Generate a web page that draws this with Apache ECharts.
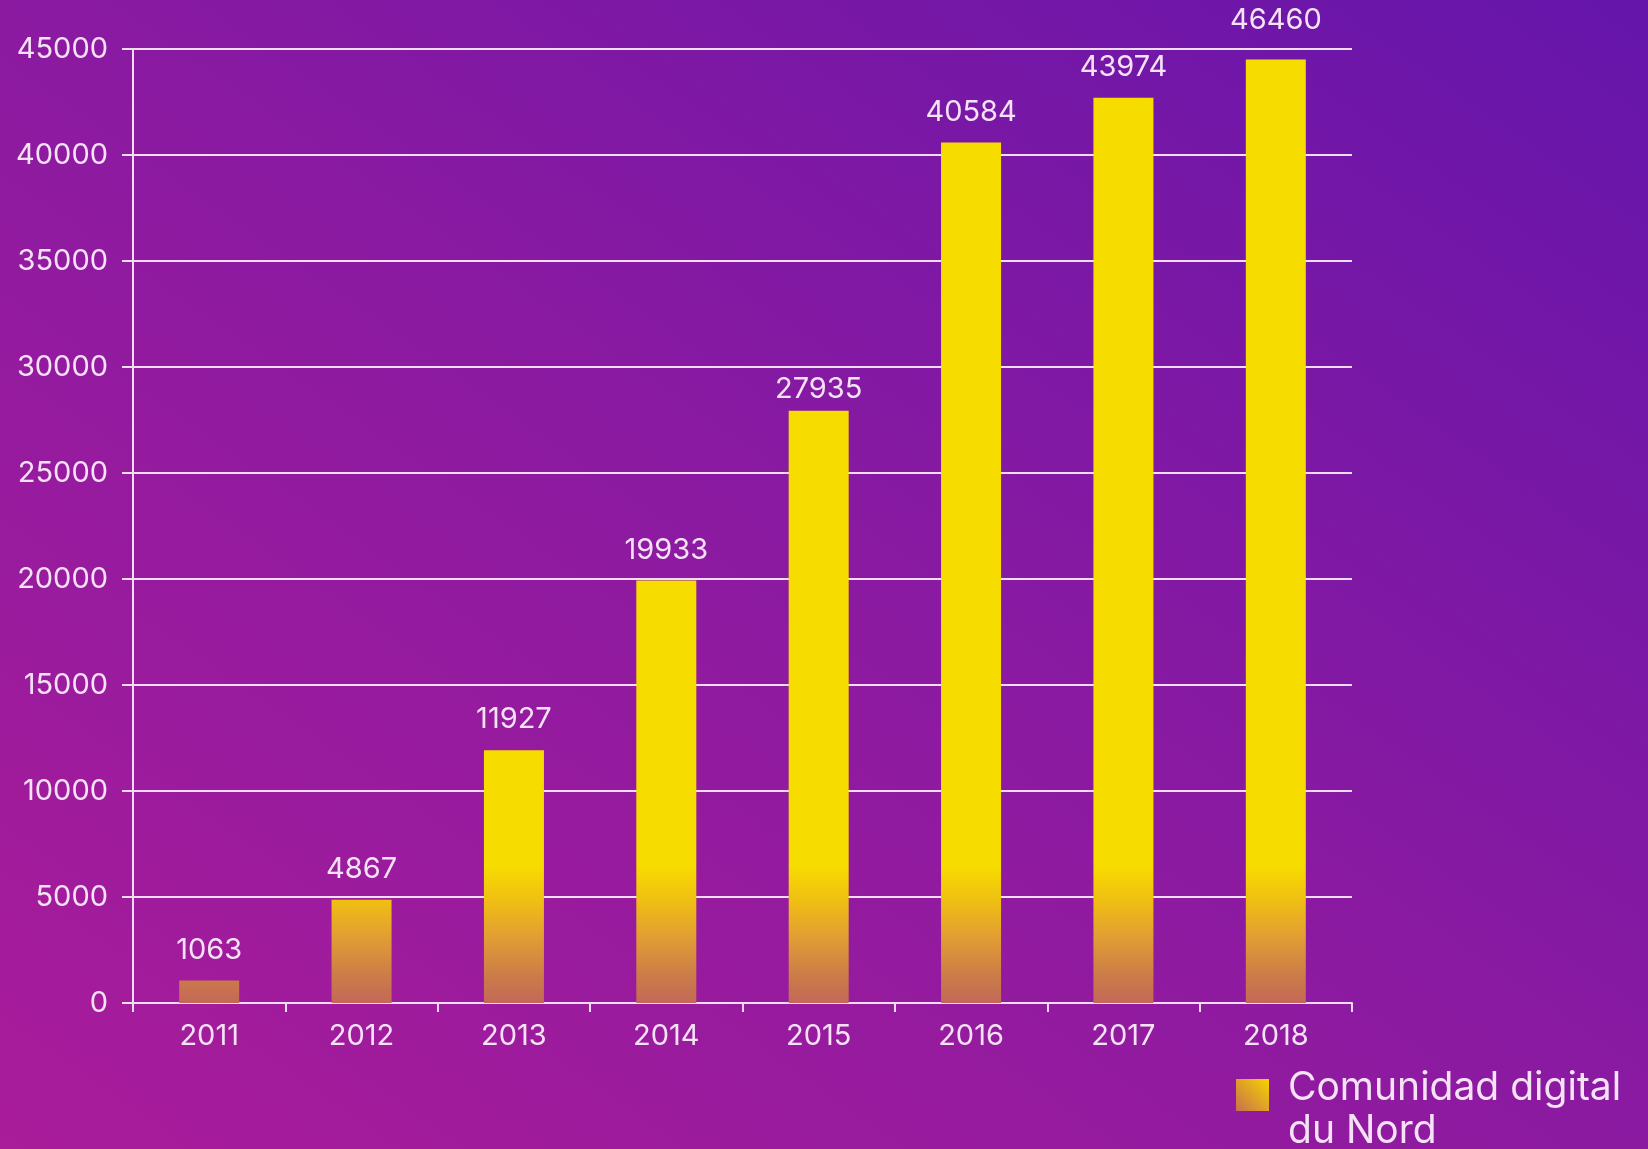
<!DOCTYPE html>
<html><head><meta charset="utf-8">
<script src="https://cdn.jsdelivr.net/npm/echarts@6/dist/echarts.min.js"></script>
<style>
html,body{margin:0;padding:0;width:1648px;height:1149px;overflow:hidden;
background:linear-gradient(to top right,#a91c9a 0%,#8b1aa1 50%,#6515ab 100%);}
#chart{width:1648px;height:1149px;}
</style>
</head><body><div id="chart"></div>
<script>
// ---- data ----
const categories = ['2011', '2012', '2013', '2014', '2015', '2016', '2017', '2018'];
// numbers printed above the bars
const labelValues = [1063, 4867, 11927, 19933, 27935, 40584, 43974, 46460];
// bar heights as drawn in the picture (last two bars are drawn shorter than their printed value)
const barValues = [1063, 4867, 11927, 19933, 27935, 40584, 42700, 44500];
const yMin = 0, yMax = 45000, yStep = 5000;
const seriesName = 'Comunidad digital du Nord';
const legendLines = ['Comunidad digital', 'du Nord'];

const FONT = 'Inter';
const TXT = '#f6e2f6';
const LINE = '#f2dcf2';
const labelDist = [16, 16, 16, 16, 7, 16, 16, 25];

const chart = echarts.init(document.getElementById('chart'), null, {renderer: 'canvas'});

const gradStops = [
  {offset: 0, color: '#c36858'},
  {offset: 0.2, color: '#cc7c48'},
  {offset: 0.45, color: '#e09a36'},
  {offset: 0.75, color: '#f0c012'},
  {offset: 1, color: '#f7dc00'}
];

function buildOption(y0, y1) {
  return {
    backgroundColor: 'transparent',
    animation: false,
    grid: {left: 133, top: 49, width: 1219, height: 954, containLabel: false, outerBoundsMode: 'none'},
    legend: {
      left: 1236, top: 1047, padding: 0,
      itemWidth: 33, itemHeight: 32,
      data: [{name: seriesName, icon: 'rect', itemStyle: {color: new echarts.graphic.LinearGradient(1, 0, 0, 1, [
        {offset: 0, color: '#f5d400'}, {offset: 1, color: '#c8704e'}])}}],
      formatter: () => '{s| }\n{t|' + legendLines[0] + '}\n{t|' + legendLines[1] + '}',
      textStyle: {
        color: TXT, fontFamily: FONT, fontSize: 39, padding: [0, 0, 0, 14],
        rich: {
          s: {fontSize: 10, lineHeight: 30, fontFamily: FONT},
          t: {fontSize: 39, lineHeight: 43, fontFamily: FONT, color: TXT}
        }
      }
    },
    xAxis: {
      type: 'category', data: categories, boundaryGap: true,
      axisLine: {show: true, lineStyle: {color: LINE, width: 2}},
      axisTick: {show: true, length: 9, lineStyle: {color: LINE, width: 2}},
      axisLabel: {color: TXT, fontFamily: FONT, fontSize: 29, margin: 19}
    },
    yAxis: {
      type: 'value', min: yMin, max: yMax, interval: yStep,
      axisLine: {show: true, lineStyle: {color: LINE, width: 2}},
      axisTick: {show: true, length: 11, lineStyle: {color: LINE, width: 2}},
      axisLabel: {color: TXT, fontFamily: FONT, fontSize: 29, margin: 25, formatter: v => String(v)},
      splitLine: {show: true, lineStyle: {color: LINE, width: 2}}
    },
    series: [{
      name: seriesName, type: 'bar', barWidth: 60,
      data: barValues.map((v, i) => ({value: v, label: {distance: labelDist[i]}})),
      itemStyle: {color: (y0 != null) ? new echarts.graphic.LinearGradient(0, y0, 0, y1, gradStops, true) : '#f7dc00'},
      label: {
        show: true, position: 'top', color: TXT, fontFamily: FONT, fontSize: 29,
        formatter: p => String(labelValues[p.dataIndex])
      }
    }]
  };
}

chart.setOption(buildOption(null, null));
const y0 = chart.convertToPixel({yAxisIndex: 0}, 0);
const y1 = chart.convertToPixel({yAxisIndex: 0}, 6500);
chart.setOption(buildOption(y0, y1));
</script>
</body></html>
